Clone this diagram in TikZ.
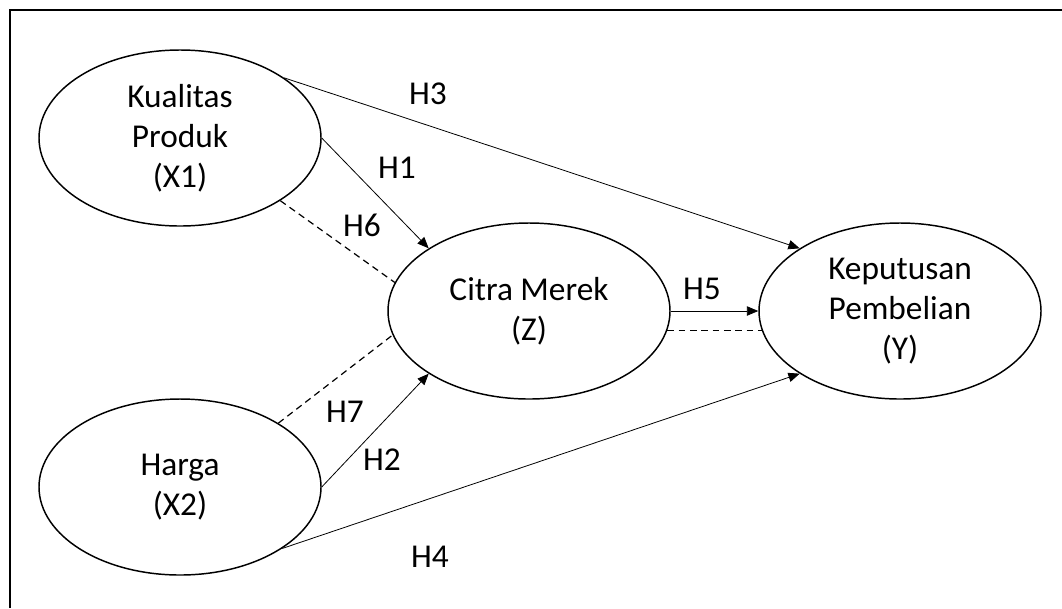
\documentclass[tikz,border=0pt]{standalone}
\usepackage{fontspec}
\setmainfont{Carlito}
\usepackage{tikz}
\usetikzlibrary{positioning,arrows.meta,shapes.geometric}

\begin{document}
\begin{tikzpicture}[x=0.75pt,y=-0.75pt,
    var/.style={ellipse,draw,line width=1.1pt,minimum width=211.5pt,minimum height=132pt,
        inner sep=0pt,align=center,font=\fontsize{25}{30}\selectfont},
    path/.style={line width=0.6pt,-{Triangle[length=8.5pt,width=7pt]}},
    mediate/.style={line width=0.9pt,dash pattern=on 5pt off 3.5pt},
    hyp/.style={font=\fontsize{25}{28}\selectfont}]
\useasboundingbox (0,0) rectangle (1062,608);
% Frame
\draw[line width=1.5pt] (10,608) -- (10,10) -- (1062,10);

% Variables
\node[var] (x1) at (180,138) {Kualitas\\Produk\\(X1)};
\node[var] (x2) at (180,487) {Harga\\(X2)};
\node[var] (z) at (529,311) {Citra Merek\\(Z)};
\node[var] (y) at (900,311) {Keputusan\\Pembelian\\(Y)};

% Direct paths
\draw[path] (x1.30.6) -- (y.148.2);
\draw[path] (x1.east) -- (z.148);
\draw[path] (x2.east) -- (z.212.5);
\draw[path] (x2.-31.8) -- (y.212);
\draw[path] (z.east) -- (y.west);

% Mediated paths
\draw[mediate] (x1.-32) -- (z.168);
\draw[mediate] (x2.33) -- (z.190.2);
\draw[mediate] (z.-8.7) -- (y.188.7);

% Labels
\node[hyp] (h1) at (397,168) {H1};
\node[hyp] (h2) at (382,460) {H2};
\node[hyp] (h3) at (428,94) {H3};
\node[hyp] (h4) at (430,557) {H4};
\node[hyp] (h5) at (702,289) {H5};
\node[hyp] (h6) at (362,225) {H6};
\node[hyp] (h7) at (345,412) {H7};
\end{tikzpicture}
\end{document}
